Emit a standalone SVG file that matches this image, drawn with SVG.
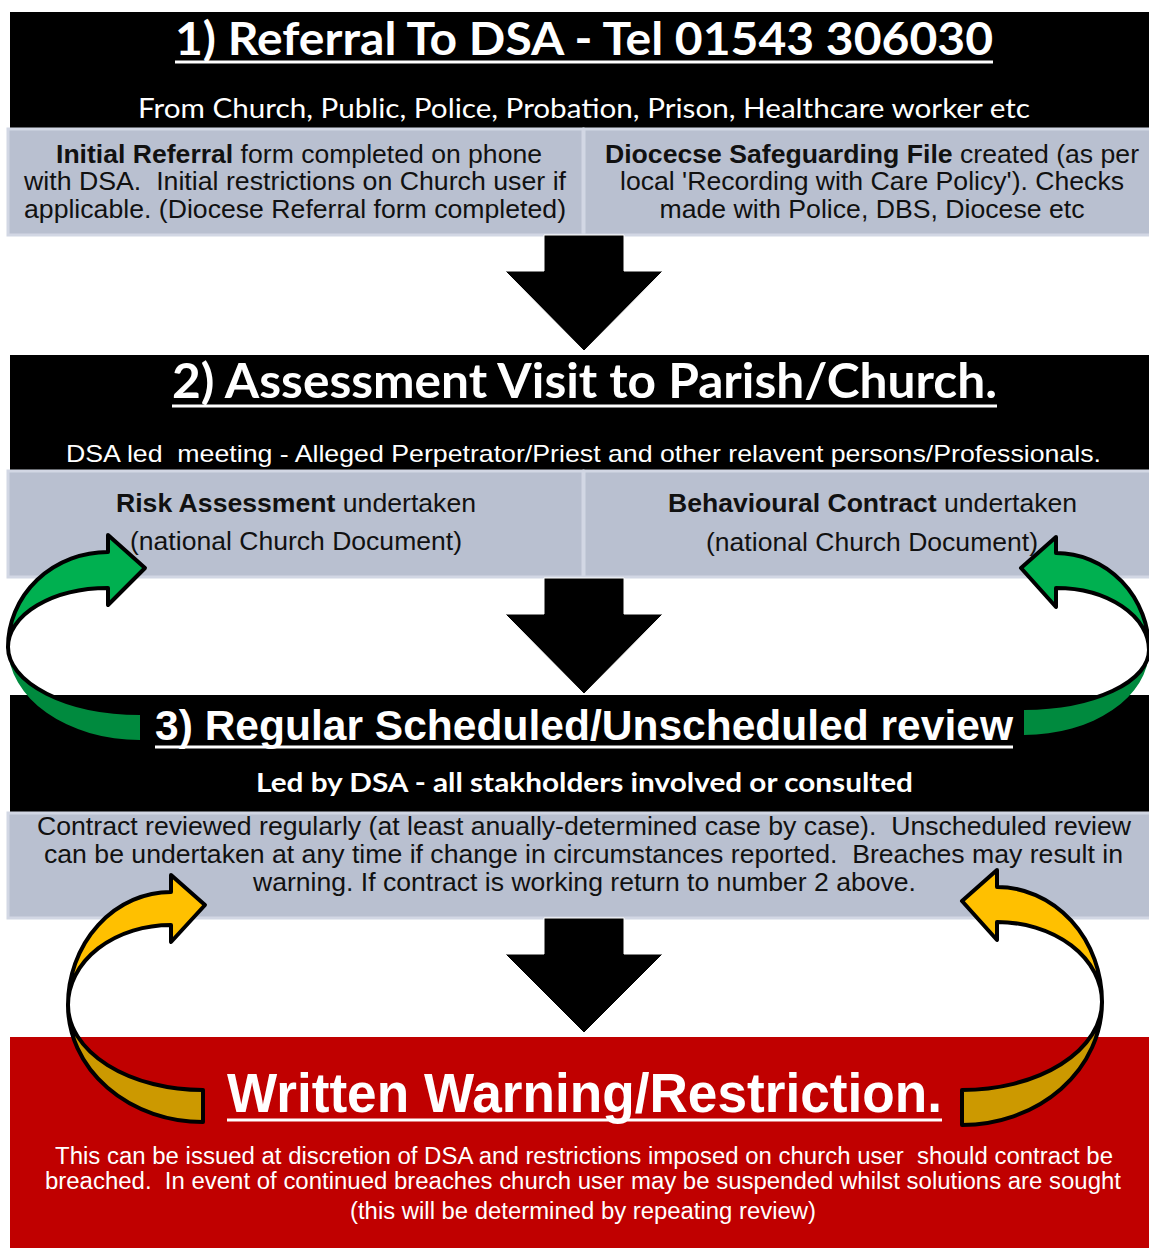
<svg xmlns="http://www.w3.org/2000/svg" width="1149" height="1248" viewBox="0 0 1149 1248">
<style>
text{white-space:pre}
.blk{fill:#000}
.grey{fill:#b9c0d0;stroke:#d2d7e4;stroke-width:3}
.red{fill:#c00000}
.ttl{font-family:Lato,"Open Sans","Liberation Sans",sans-serif;font-weight:bold;fill:#fff;text-anchor:middle}
.sub{font-family:Lato,"Open Sans","Liberation Sans",sans-serif;fill:#fff;text-anchor:middle}
.ar{font-family:"Liberation Sans",Arial,sans-serif;text-anchor:middle}
.dk{fill:#111}
.wt{fill:#fff}
.b{font-weight:bold}
.ul{stroke:#fff;stroke-width:3}
.down{fill:#000;stroke:#fff;stroke-width:1}
.edge{fill:none;stroke:#000;stroke-width:4;stroke-linejoin:round}
</style>

<g id="node-referral">
  <rect class="blk" x="10" y="12" width="1139" height="116"/>
  <text class="ttl" x="584" y="55" font-size="46" textLength="818" lengthAdjust="spacingAndGlyphs">1) Referral To DSA - Tel 01543 306030</text>
  <line class="ul" x1="175" y1="62" x2="993" y2="62"/>
  <text class="sub" x="584" y="118" font-size="27" textLength="892" lengthAdjust="spacingAndGlyphs">From Church, Public, Police, Probation, Prison, Healthcare worker etc</text>
</g>
<g id="node-initial-referral">
  <rect class="grey" x="8" y="129" width="575" height="106"/>
  <text class="ar dk" font-size="25"><tspan x="299" y="163" textLength="486" lengthAdjust="spacingAndGlyphs"><tspan class="b">Initial Referral</tspan> form completed on phone</tspan></text>
  <text class="ar dk" x="295" y="190" font-size="25" textLength="542" lengthAdjust="spacingAndGlyphs" xml:space="preserve">with DSA.  Initial restrictions on Church user if</text>
  <text class="ar dk" x="295" y="218" font-size="25" textLength="542" lengthAdjust="spacingAndGlyphs">applicable. (Diocese Referral form completed)</text>
</g>
<g id="node-safeguarding-file">
  <rect class="grey" x="584" y="129" width="567" height="106"/>
  <text class="ar dk" font-size="25"><tspan x="872" y="163" textLength="534" lengthAdjust="spacingAndGlyphs"><tspan class="b">Diocecse Safeguarding File</tspan> created (as per</tspan></text>
  <text class="ar dk" x="872" y="190" font-size="25" textLength="504" lengthAdjust="spacingAndGlyphs">local 'Recording with Care Policy'). Checks</text>
  <text class="ar dk" x="872" y="218" font-size="25" textLength="425" lengthAdjust="spacingAndGlyphs">made with Police, DBS, Diocese etc</text>
</g>

<g id="node-assessment">
  <rect class="blk" x="10" y="355" width="1139" height="115"/>
  <text class="ttl" x="584.5" y="398" font-size="48" textLength="825" lengthAdjust="spacingAndGlyphs">2) Assessment Visit to Parish/Church.</text>
  <line class="ul" x1="172" y1="406" x2="997" y2="406"/>
  <text class="ar wt" x="583.5" y="462" font-size="24" textLength="1035" lengthAdjust="spacingAndGlyphs" xml:space="preserve">DSA led  meeting - Alleged Perpetrator/Priest and other relavent persons/Professionals.</text>
</g>
<g id="node-risk-assessment">
  <rect class="grey" x="8" y="471" width="575" height="106"/>
  <text class="ar dk" font-size="25"><tspan x="296" y="512" textLength="360" lengthAdjust="spacingAndGlyphs"><tspan class="b">Risk Assessment</tspan> undertaken</tspan></text>
  <text class="ar dk" x="296" y="550" font-size="25" textLength="332" lengthAdjust="spacingAndGlyphs">(national Church Document)</text>
</g>
<g id="node-behavioural-contract">
  <rect class="grey" x="584" y="471" width="567" height="106"/>
  <text class="ar dk" font-size="25"><tspan x="872.5" y="512" textLength="409" lengthAdjust="spacingAndGlyphs"><tspan class="b">Behavioural Contract</tspan> undertaken</tspan></text>
  <text class="ar dk" x="872" y="551" font-size="25" textLength="332" lengthAdjust="spacingAndGlyphs">(national Church Document)</text>
</g>

<g id="node-review">
  <rect class="blk" x="10" y="695" width="1139" height="117"/>
  <text class="ar wt" x="584" y="740" font-size="42" font-weight="bold" textLength="858" lengthAdjust="spacingAndGlyphs">3) Regular Scheduled/Unscheduled review</text>
  <line class="ul" x1="155" y1="747" x2="1013" y2="747"/>
  <text class="sub" x="584.5" y="792" font-size="27" font-weight="bold" textLength="657" lengthAdjust="spacingAndGlyphs">Led by DSA - all stakholders involved or consulted</text>
</g>
<g id="node-contract-review">
  <rect class="grey" x="8" y="813" width="1143" height="105"/>
  <text class="ar dk" x="584" y="835" font-size="25" textLength="1094" lengthAdjust="spacingAndGlyphs" xml:space="preserve">Contract reviewed regularly (at least anually-determined case by case).  Unscheduled review</text>
  <text class="ar dk" x="583.5" y="863" font-size="25" textLength="1079" lengthAdjust="spacingAndGlyphs" xml:space="preserve">can be undertaken at any time if change in circumstances reported.  Breaches may result in</text>
  <text class="ar dk" x="584.5" y="891" font-size="25" textLength="663" lengthAdjust="spacingAndGlyphs">warning. If contract is working return to number 2 above.</text>
</g>

<g id="node-warning">
  <rect class="red" x="10" y="1037" width="1139" height="211"/>
  <text class="ar wt" x="584.5" y="1112" font-size="56" font-weight="bold" textLength="715" lengthAdjust="spacingAndGlyphs">Written Warning/Restriction.</text>
  <line class="ul" x1="227" y1="1120" x2="942" y2="1120" stroke-width="4"/>
  <text class="ar wt" x="584" y="1164" font-size="23" textLength="1058" lengthAdjust="spacingAndGlyphs" xml:space="preserve">This can be issued at discretion of DSA and restrictions imposed on church user  should contract be</text>
  <text class="ar wt" x="583" y="1189" font-size="23" textLength="1076" lengthAdjust="spacingAndGlyphs" xml:space="preserve">breached.  In event of continued breaches church user may be suspended whilst solutions are sought</text>
  <text class="ar wt" x="583" y="1219" font-size="23" textLength="466" lengthAdjust="spacingAndGlyphs">(this will be determined by repeating review)</text>
</g>

<g id="connectors">
  <path class="down" d="M544,235 L624,235 L624,271 L663,271 L584,351 L505,271 L544,271 Z"/>
  <path class="down" d="M544,578 L624,578 L624,614 L663,614 L584,694 L505,614 L544,614 Z"/>
  <path class="down" d="M544,918 L624,918 L624,954 L663,954 L584,1033 L505,954 L544,954 Z"/>

  <path d="M8,647 A132,66 0 0 0 140,713 L140,740 A132,93 0 0 1 8,647 Z" fill="#008a3e"/>
  <path class="edge" d="M8,647 A132,66 0 0 0 140,713"/>
  <path d="M108,552 L108,535 L145,568 L108,605 L108,588 A100,59 0 0 0 8,647 A100,95 0 0 1 108,552 Z" fill="#00b050" stroke="#000" stroke-width="4" stroke-linejoin="round"/>

  <path d="M1149,650 A125,58 0 0 1 1024,708 L1024,735 A125,85 0 0 0 1149,650 Z" fill="#008a3e"/>
  <path class="edge" d="M1149,650 A125,58 0 0 1 1024,708"/>
  <path d="M1056,553 L1056,537 L1021,568 L1056,607 L1056,588 A93,62 0 0 1 1149,650 A93,97 0 0 0 1056,553 Z" fill="#00b050" stroke="#000" stroke-width="4" stroke-linejoin="round"/>

  <path d="M68,1005 A135,85 0 0 0 203,1090 L203,1122 A135,117 0 0 1 68,1005 Z" fill="#cc9900" stroke="#000" stroke-width="4" stroke-linejoin="round"/>
  <path d="M171,892 L171,875 L205,905 L171,942 L171,925 A103,80 0 0 0 68,1005 A103,113 0 0 1 171,892 Z" fill="#ffc000" stroke="#000" stroke-width="4" stroke-linejoin="round"/>

  <path d="M1102,1002 A140,88 0 0 1 962,1090 L962,1125 A140,123 0 0 0 1102,1002 Z" fill="#cc9900" stroke="#000" stroke-width="4" stroke-linejoin="round"/>
  <path d="M997,887 L997,870 L962,901 L997,940 L997,922 A105,80 0 0 1 1102,1002 A105,115 0 0 0 997,887 Z" fill="#ffc000" stroke="#000" stroke-width="4" stroke-linejoin="round"/>
</g>
</svg>
